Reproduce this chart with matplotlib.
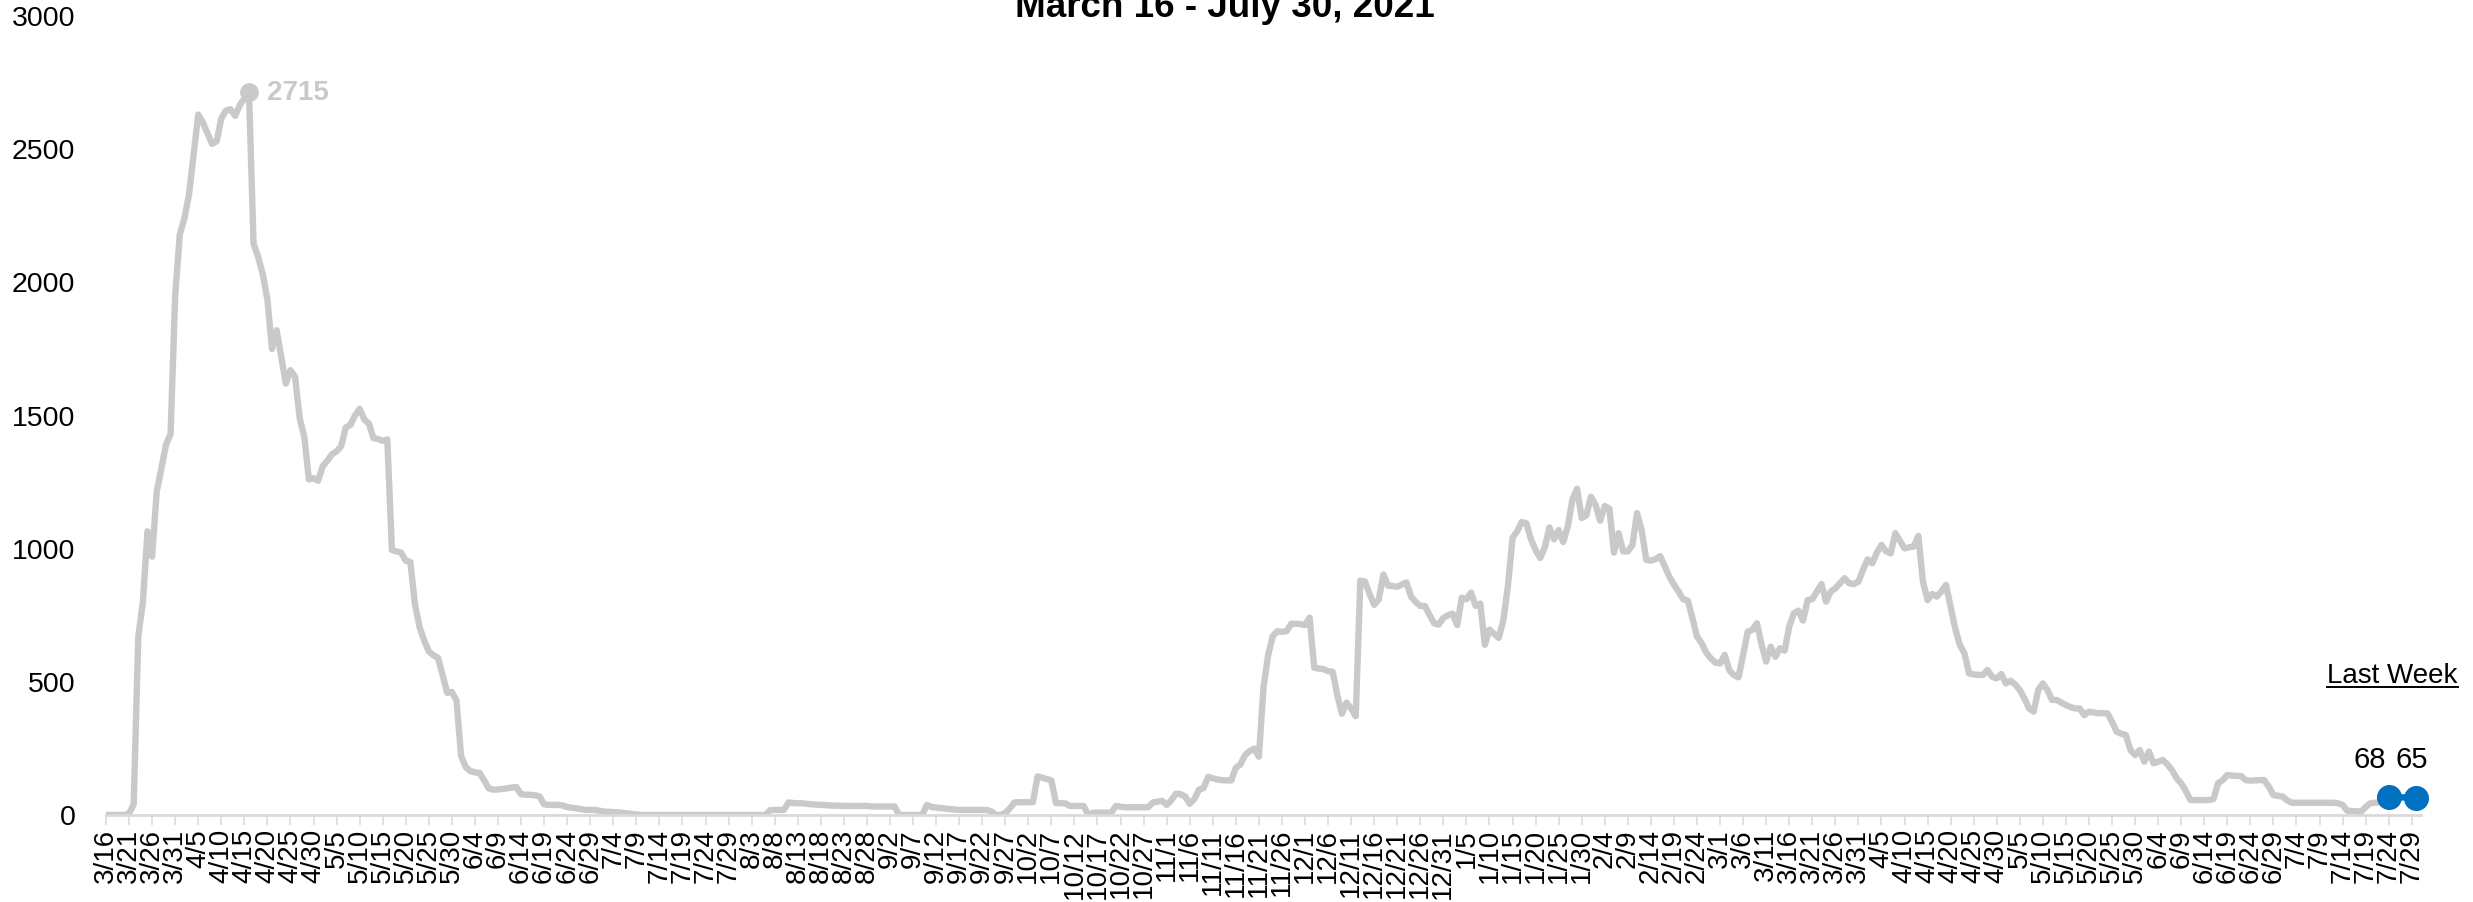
import matplotlib
matplotlib.use("Agg")
import matplotlib.pyplot as plt
from matplotlib.lines import Line2D
import numpy as np
import pandas as pd

plt.rcParams['font.family'] = ['Liberation Sans', 'DejaVu Sans']

# daily values, 3/16/2020 - 7/24/2021, one list per month
mar20 = [0, 0, 0, 0, 0, 5, 40, 670, 800, 1065, 970, 1215, 1300, 1390, 1430, 1950]
apr20 = [2180, 2240, 2330, 2480, 2630, 2600, 2560, 2520, 2530, 2615, 2645, 2650, 2625, 2665, 2690,
         2715, 2145, 2095, 2030, 1935, 1750, 1820, 1720, 1620, 1670, 1645, 1490, 1420, 1260, 1265]
may20 = [1255, 1310, 1330, 1355, 1365, 1385, 1455, 1465, 1500, 1525, 1485, 1470, 1415, 1412, 1405,
         1410, 995, 990, 985, 955, 950, 790, 705, 655, 614, 600, 590, 525, 458, 462, 430]
jun20 = [222, 180, 165, 160, 158, 130, 100, 95, 96, 98, 100, 103, 105, 78, 76,
         76, 74, 70, 40, 38, 38, 38, 36, 30, 27, 25, 22, 19, 19, 19]
jul20 = [16, 13, 12, 11, 10, 8, 6, 4, 2, 0, 0, 0, 0, 0, 0, 0,
         0, 0, 0, 0, 0, 0, 0, 0, 0, 0, 0, 0, 0, 0, 0]
aug20 = [0, 0, 0, 0, 0, 0, 18, 19, 19, 19, 47, 45, 44, 44, 42, 40,
         39, 38, 37, 36, 35, 35, 34, 34, 34, 34, 34, 34, 32, 32, 32]
sep20 = [32, 32, 32, 0, 0, 0, 0, 0, 0, 38, 30, 28, 26, 24, 22,
         21, 19, 19, 19, 19, 19, 19, 19, 13, 0, 0, 8, 25, 47, 48]
oct20 = [48, 48, 48, 145, 140, 135, 130, 45, 44, 44, 34, 34, 34, 34, 0, 8,
         9, 9, 9, 9, 34, 31, 29, 29, 29, 29, 29, 29, 47, 50, 53]
nov20 = [38, 55, 80, 78, 70, 42, 60, 95, 101, 143, 138, 133, 131, 130, 130,
         177, 190, 225, 240, 249, 219, 480, 600, 671, 690, 688, 690, 718, 718, 717]
dec20 = [713, 741, 553, 550, 548, 540, 538, 450, 380, 422, 400, 371, 880, 877, 830, 789,
         810, 903, 861, 860, 857, 865, 873, 820, 800, 785, 785, 751, 720, 715, 740]
jan21 = [750, 756, 713, 816, 810, 835, 785, 794, 639, 696, 680, 665, 730, 860, 1040, 1065,
         1100, 1095, 1035, 995, 965, 1005, 1080, 1035, 1070, 1025, 1085, 1185, 1225, 1115, 1125]
feb21 = [1195, 1165, 1105, 1160, 1150, 985, 1058, 990, 990, 1014, 1134, 1070, 958, 955,
         960, 972, 935, 895, 865, 839, 810, 805, 740, 670, 645, 610, 588, 572]
mar21 = [569, 601, 544, 525, 517, 601, 688, 695, 720, 640, 576, 632, 594, 626, 617, 707,
         757, 767, 730, 807, 810, 839, 867, 801, 839, 851, 870, 889, 870, 867, 876]
apr21 = [920, 960, 945, 985, 1014, 990, 982, 1058, 1030, 1001, 1005, 1008, 1048, 876, 807,
         830, 820, 840, 864, 782, 700, 638, 607, 532, 528, 526, 526, 544, 519, 513]
may21 = [529, 494, 504, 490, 469, 438, 400, 388, 469, 494, 469, 432, 432, 422, 413, 405,
         400, 400, 375, 388, 385, 382, 382, 382, 350, 313, 305, 300, 244, 225, 244]
jun21 = [200, 238, 194, 200, 207, 190, 169, 138, 119, 90, 56, 56, 56, 56, 56,
         60, 119, 131, 150, 148, 147, 146, 131, 129, 130, 131, 131, 106, 75, 72]
jul21 = [69, 55, 46, 46, 46, 46, 46, 46, 46, 46, 46, 46, 44, 38, 16, 15,
         14, 13, 30, 44, 46, 48, 50, 68]

# last week 7/24 - 7/30
last_week = [68, 67, 67, 66, 66, 65, 65]

history = (mar20 + apr20 + may20 + jun20 + jul20 + aug20 + sep20 + oct20 + nov20 + dec20
           + jan21 + feb21 + mar21 + apr21 + may21 + jun21 + jul21)
dates = pd.date_range("2020-03-16", "2021-07-30", freq="D")
labels = [f"{d.month}/{d.day}" for d in dates]

x_hist = np.arange(len(history))
x_last = np.arange(len(history) - 1, len(history) - 1 + len(last_week))

GRAY = '#c9c9c9'
BLUE = '#0070c0'

W, H = 2473, 902
fig = plt.figure(figsize=(W / 100, H / 100), dpi=100)
ax = fig.add_axes([106 / W, 1 - 815 / H, (2421 - 106) / W, (815 - 16) / H])

ax.plot(x_hist, history, color=GRAY, lw=4.6, solid_joinstyle='round', zorder=2)
ax.plot(x_last, last_week, color=BLUE, lw=4.6, zorder=3)
ax.plot([x_last[0], x_last[-1]], [last_week[0], last_week[-1]], 'o', color=BLUE,
        ms=17, clip_on=False, zorder=4)

# peak marker + label
ipk = int(np.argmax(history))
ax.plot(ipk, history[ipk], 'o', color=GRAY, ms=12.5, zorder=3)
ax.annotate(str(history[ipk]), (ipk, history[ipk]), xytext=(13, -1), textcoords='offset points',
            ha='left', va='center', fontsize=20, fontweight='bold', color=GRAY)

ax.annotate(str(last_week[0]), (x_last[0], last_week[0]), xytext=(-13.5, 21),
            textcoords='offset points', ha='center', va='baseline', fontsize=21)
ax.annotate(str(last_week[-1]), (x_last[-1], last_week[-1]), xytext=(-3, 21.5),
            textcoords='offset points', ha='center', va='baseline', fontsize=21, clip_on=False)

ax.set_xlim(0, 502)
ax.set_ylim(0, 3000)
ax.set_yticks(range(0, 3001, 500))
ax.set_xticks(x_hist[::5].tolist() + [500])
ax.set_xticklabels([labels[i] for i in range(0, 501, 5)], rotation=90)
ax.tick_params(axis='x', length=7, width=1.1, color='#d9d9d9', pad=3, labelsize=20)
ax.tick_params(axis='y', length=0, pad=22, labelsize=20.5)
for s in ['top', 'right', 'left']:
    ax.spines[s].set_visible(False)
ax.spines['bottom'].set_color('#d9d9d9')
ax.spines['bottom'].set_linewidth(2)

fig.text(1225 / W, 1 - 17 / H, "March 16 - July 30, 2021", ha='center', va='baseline',
         fontsize=26.5, fontweight='bold')

lw_y = 1 - 683 / H
t = fig.text(2327 / W, lw_y, "Last Week", ha='left', va='baseline', fontsize=20)
fig.canvas.draw()
bb = t.get_window_extent().transformed(fig.transFigure.inverted())
fig.add_artist(Line2D([bb.x0, bb.x1], [lw_y - 4 / H, lw_y - 4 / H], color='black', lw=1.4))

fig.savefig("out.png", dpi=100)
